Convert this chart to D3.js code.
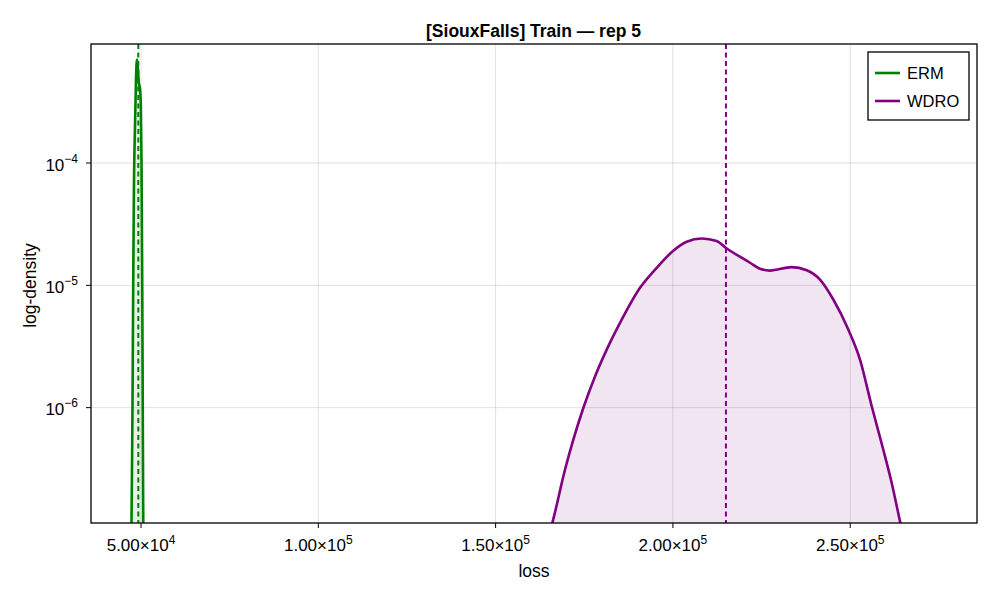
<!DOCTYPE html>
<html>
<head>
<meta charset="utf-8">
<script src="https://cdn.jsdelivr.net/npm/d3@7"></script>
<style>
  html, body { margin: 0; padding: 0; background: #fff; }
  svg { display: block; font-family: "Liberation Sans", Arial, Helvetica, sans-serif; }
</style>
</head>
<body>
<svg id="chart" width="996" height="598"></svg>
<script>
// ---------- data ----------
const title = "[SiouxFalls] Train — rep 5";
const xLabel = "loss";
const yLabel = "log-density";
const seriesNames = ["ERM", "WDRO"];
const seriesColors = ["#008000", "#800080"];

const xTicks = [50000, 100000, 150000, 200000, 250000];
const xTickMantissa = ["5.00", "1.00", "1.50", "2.00", "2.50"];
const xTickExponent = ["4", "5", "5", "5", "5"];
const yTicks = [1e-4, 1e-5, 1e-6];
const yTickExponent = ["−4", "−5", "−6"];

const ermLoss    = [47200, 47400, 47600, 47800, 48000, 48300, 48600, 48850, 49100, 49400, 49700, 49950, 50150, 50350, 50500, 50650, 50750];
const ermDensity = [5e-8, 2e-7, 1e-6, 1e-5, 6e-5, 2e-4, 5e-4, 7.0e-4, 6.0e-4, 4.5e-4, 4.1e-4, 3.0e-4, 1e-4, 1e-5, 1e-6, 1e-7, 5e-8];

const wdroLoss = [165060, 165990, 169570, 174730, 178030, 181330, 185080, 190720, 195430, 199940, 203890,
                  208120, 212350, 214890, 221740, 224560, 227380, 233500, 237730, 241480, 245230, 249460,
                  252760, 256060, 259330, 261700, 264040, 264880];
const wdroDensity = [9.1e-8, 1.14e-7, 3.11e-7, 9.94e-7, 1.80e-6, 2.98e-6, 4.93e-6, 9.54e-6, 1.39e-5, 1.90e-5, 2.27e-5,
                     2.415e-5, 2.30e-5, 2.03e-5, 1.53e-5, 1.365e-5, 1.32e-5, 1.41e-5, 1.33e-5, 1.115e-5, 7.66e-6, 4.35e-6,
                     2.47e-6, 1.026e-6, 4.53e-7, 2.42e-7, 1.175e-7, 9.1e-8];

const ermMean = 49240;
const wdroMean = 214950;

const xDomain = [35900, 285750];
const yDomain = [1.14e-7, 9.4e-4];

// ---------- layout ----------
const svg = d3.select("#chart");
const plot = { left: 91, right: 977, top: 44, bottom: 523 };

const x = d3.scaleLinear().domain(xDomain).range([plot.left, plot.right]);
const y = d3.scaleLog().domain(yDomain).range([plot.bottom, plot.top]);

svg.append("defs").append("clipPath").attr("id", "clip")
  .append("rect")
  .attr("x", plot.left).attr("y", plot.top)
  .attr("width", plot.right - plot.left).attr("height", plot.bottom - plot.top);

// grid
const grid = svg.append("g");
grid.selectAll(".vg").data(xTicks).enter().append("line")
  .attr("x1", d => x(d)).attr("x2", d => x(d))
  .attr("y1", plot.top).attr("y2", plot.bottom)
  .attr("stroke", "rgba(0,0,0,0.12)").attr("stroke-width", 1);
grid.selectAll(".hg").data(yTicks).enter().append("line")
  .attr("y1", d => y(d)).attr("y2", d => y(d))
  .attr("x1", plot.left).attr("x2", plot.right)
  .attr("stroke", "rgba(0,0,0,0.12)").attr("stroke-width", 1);

// series
const series = [
  { name: seriesNames[0], color: seriesColors[0], loss: ermLoss, dens: ermDensity, mean: ermMean },
  { name: seriesNames[1], color: seriesColors[1], loss: wdroLoss, dens: wdroDensity, mean: wdroMean }
];

const g = svg.append("g").attr("clip-path", "url(#clip)");
series.forEach(s => {
  const pts = s.loss.map((v, i) => [v, s.dens[i]]);
  const area = d3.area()
    .x(d => x(d[0]))
    .y0(plot.bottom + 15)
    .y1(d => y(d[1]))
    .curve(d3.curveMonotoneX);
  const line = d3.line()
    .x(d => x(d[0]))
    .y(d => y(d[1]))
    .curve(d3.curveMonotoneX);
  g.append("path").datum(pts).attr("d", area)
    .attr("fill", s.color).attr("fill-opacity", 0.1);
  g.append("path").datum(pts).attr("d", line)
    .attr("fill", "none").attr("stroke", s.color).attr("stroke-width", 2.6)
    .attr("stroke-linejoin", "round");
  g.append("line")
    .attr("x1", x(s.mean)).attr("x2", x(s.mean))
    .attr("y1", plot.top).attr("y2", plot.bottom)
    .attr("stroke", s.color).attr("stroke-width", 2)
    .attr("stroke-dasharray", "5,3.5");
});

// frame
svg.append("rect")
  .attr("x", plot.left).attr("y", plot.top)
  .attr("width", plot.right - plot.left).attr("height", plot.bottom - plot.top)
  .attr("fill", "none").attr("stroke", "#000").attr("stroke-width", 1.3);

// x ticks
const xt = svg.append("g");
xTicks.forEach((t, i) => {
  xt.append("line").attr("x1", x(t)).attr("x2", x(t))
    .attr("y1", plot.bottom).attr("y2", plot.bottom + 5)
    .attr("stroke", "#000").attr("stroke-width", 1);
  const txt = xt.append("text")
    .attr("x", x(t)).attr("y", plot.bottom + 28)
    .attr("text-anchor", "middle")
    .attr("font-size", 17).attr("fill", "#000");
  txt.append("tspan").text(xTickMantissa[i] + "×10");
  txt.append("tspan").attr("dy", -7).attr("font-size", 12).text(xTickExponent[i]);
});

// y ticks
const yt = svg.append("g");
yTicks.forEach((t, i) => {
  yt.append("line").attr("x1", plot.left - 5).attr("x2", plot.left)
    .attr("y1", y(t)).attr("y2", y(t))
    .attr("stroke", "#000").attr("stroke-width", 1);
  const txt = yt.append("text")
    .attr("x", plot.left - 13).attr("y", y(t) + 7.5)
    .attr("text-anchor", "end")
    .attr("font-size", 17).attr("fill", "#000");
  txt.append("tspan").text("10");
  txt.append("tspan").attr("dy", -8).attr("font-size", 12).text(yTickExponent[i]);
});

// labels
svg.append("text")
  .attr("x", 533.5).attr("y", 36.5)
  .attr("text-anchor", "middle").attr("font-size", 17.5).attr("font-weight", "bold")
  .text(title);
svg.append("text")
  .attr("x", (plot.left + plot.right) / 2).attr("y", 577)
  .attr("text-anchor", "middle").attr("font-size", 17.5)
  .text(xLabel);
svg.append("text")
  .attr("transform", `translate(36, ${(plot.top + plot.bottom) / 2 + 2}) rotate(-90)`)
  .attr("text-anchor", "middle").attr("font-size", 17.5)
  .text(yLabel);

// legend
const lg = svg.append("g");
lg.append("rect")
  .attr("x", 868).attr("y", 52).attr("width", 101).attr("height", 68)
  .attr("fill", "#fff").attr("stroke", "#000").attr("stroke-width", 1.3);
series.forEach((s, i) => {
  const cy = 73 + i * 28;
  lg.append("line").attr("x1", 875).attr("x2", 900)
    .attr("y1", cy).attr("y2", cy)
    .attr("stroke", s.color).attr("stroke-width", 2.6);
  lg.append("text").attr("x", 907).attr("y", cy + 6)
    .attr("font-size", 16.5).text(s.name);
});
</script>
</body>
</html>
